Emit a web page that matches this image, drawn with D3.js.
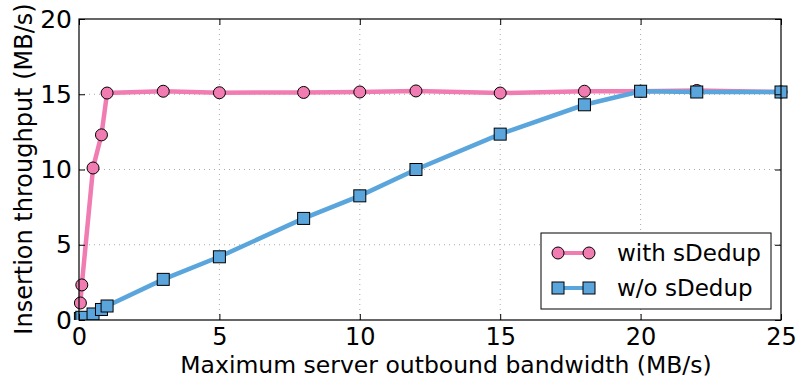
<!DOCTYPE html>
<html><head><meta charset="utf-8">
<script src="https://cdn.jsdelivr.net/npm/d3@7/dist/d3.min.js"></script>
<style>body{margin:0;background:#fff;}svg{display:block;font-family:"DejaVu Sans",sans-serif;}</style>
</head><body><svg id="c" width="801" height="379"></svg>
<script>
const withX = [0.05, 0.1, 0.5, 0.8, 1, 3, 5, 8, 10, 12, 15, 18, 20, 22, 25];
const withY = [1.13, 2.33, 10.1, 12.3, 15.08, 15.2, 15.1, 15.12, 15.15, 15.22, 15.08, 15.2, 15.2, 15.25, 15.15];
const woX = [0.05, 0.1, 0.5, 0.8, 1, 3, 5, 8, 10, 12, 15, 18, 20, 22, 25];
const woY = [0.1, 0.18, 0.4, 0.7, 0.93, 2.7, 4.2, 6.75, 8.25, 10.0, 12.35, 14.3, 15.2, 15.15, 15.15];
const xTicks = [0, 5, 10, 15, 20, 25];
const yTicks = [0, 5, 10, 15, 20];
const seriesNames = ["with sDedup", "w/o sDedup"];

const pink = "#f07cb1", blue = "#5aa5dc";
const svg = d3.select("#c");
const L = 79, R = 781, T = 19, B = 320;
const x = d3.scaleLinear().domain([0, 25]).range([L, R]);
const y = d3.scaleLinear().domain([0, 20]).range([B, T]);

// grid
const g = svg.append("g");
g.selectAll("line.gx").data(xTicks.slice(1, -1)).join("line")
  .attr("x1", d => x(d)).attr("x2", d => x(d)).attr("y1", T).attr("y2", B)
  .attr("stroke", "#aaa").attr("stroke-dasharray", "1,4").attr("stroke-width", 1);
g.selectAll("line.gy").data(yTicks.slice(1, -1)).join("line")
  .attr("y1", d => y(d)).attr("y2", d => y(d)).attr("x1", L).attr("x2", R)
  .attr("stroke", "#aaa").attr("stroke-dasharray", "1,4").attr("stroke-width", 1);

svg.append("clipPath").attr("id", "cp").append("rect")
  .attr("x", L - 8).attr("y", T - 8).attr("width", R - L + 16).attr("height", B - T + 8);

const line = d3.line().x(d => x(d[0])).y(d => y(d[1]));
const wData = withX.map((v, i) => [v, withY[i]]);
const oData = woX.map((v, i) => [v, woY[i]]);
const plot = svg.append("g").attr("clip-path", "url(#cp)");
plot.append("path").datum(wData).attr("d", line).attr("fill", "none").attr("stroke", pink).attr("stroke-width", 4.5);
plot.selectAll("circle").data(wData).join("circle")
  .attr("cx", d => x(d[0])).attr("cy", d => y(d[1])).attr("r", 6)
  .attr("fill", pink).attr("stroke", "#000").attr("stroke-width", 1);
plot.append("path").datum(oData).attr("d", line).attr("fill", "none").attr("stroke", blue).attr("stroke-width", 4.5);
plot.selectAll("rect.sq").data(oData).join("rect").attr("class", "sq")
  .attr("x", d => x(d[0]) - 6).attr("y", d => y(d[1]) - 6).attr("width", 12).attr("height", 12)
  .attr("fill", blue).attr("stroke", "#000").attr("stroke-width", 1);

// frame
svg.append("rect").attr("x", L).attr("y", T).attr("width", R - L).attr("height", B - T)
  .attr("fill", "none").attr("stroke", "#000").attr("stroke-width", 1.2);

// axes
const xa = svg.append("g").attr("transform", `translate(0,${B})`)
  .call(d3.axisBottom(x).tickValues(xTicks).tickSize(-6).tickPadding(7).tickFormat(d3.format("d")));
const xt = svg.append("g").attr("transform", `translate(0,${T})`)
  .call(d3.axisTop(x).tickValues(xTicks).tickSize(-6).tickFormat(""));
const ya = svg.append("g").attr("transform", `translate(${L},0)`)
  .call(d3.axisLeft(y).tickValues(yTicks).tickSize(-6).tickPadding(7).tickFormat(d3.format("d")));
const yr = svg.append("g").attr("transform", `translate(${R},0)`)
  .call(d3.axisRight(y).tickValues(yTicks).tickSize(-6).tickFormat(""));
[xa, xt, ya, yr].forEach(a => { a.select(".domain").remove(); a.selectAll("line").attr("stroke", "#000"); });
svg.selectAll(".tick text").attr("font-size", 25).attr("font-family", "DejaVu Sans").attr("fill", "#000");
xa.selectAll(".tick text").attr("font-size", 24).attr("dy", null).attr("y", 25);

svg.append("text").attr("x", (L + R) / 2 + 16).attr("y", 373).attr("text-anchor", "middle")
  .attr("font-size", 23.5).text("Maximum server outbound bandwidth (MB/s)");
svg.append("text").attr("transform", `translate(32,169) rotate(-90)`).attr("text-anchor", "middle")
  .attr("font-size", 24).text("Insertion throughput (MB/s)");

// legend
const lg = svg.append("g");
lg.append("rect").attr("x", 541).attr("y", 233).attr("width", 230).attr("height", 76)
  .attr("fill", "#fff").attr("stroke", "#000").attr("stroke-width", 1);
const items = [{n: seriesNames[0], c: pink, s: "c", yy: 253}, {n: seriesNames[1], c: blue, s: "s", yy: 288}];
items.forEach(it => {
  lg.append("line").attr("x1", 558).attr("x2", 589).attr("y1", it.yy).attr("y2", it.yy).attr("stroke", it.c).attr("stroke-width", 4);
  [558, 589].forEach(cx => {
    if (it.s === "c") lg.append("circle").attr("cx", cx).attr("cy", it.yy).attr("r", 6).attr("fill", it.c).attr("stroke", "#000");
    else lg.append("rect").attr("x", cx - 6).attr("y", it.yy - 6).attr("width", 12).attr("height", 12).attr("fill", it.c).attr("stroke", "#000");
  });
  lg.append("text").attr("x", 617).attr("y", it.yy).attr("dy", "0.35em").attr("font-size", 23).text(it.n);
});
</script></body></html>
